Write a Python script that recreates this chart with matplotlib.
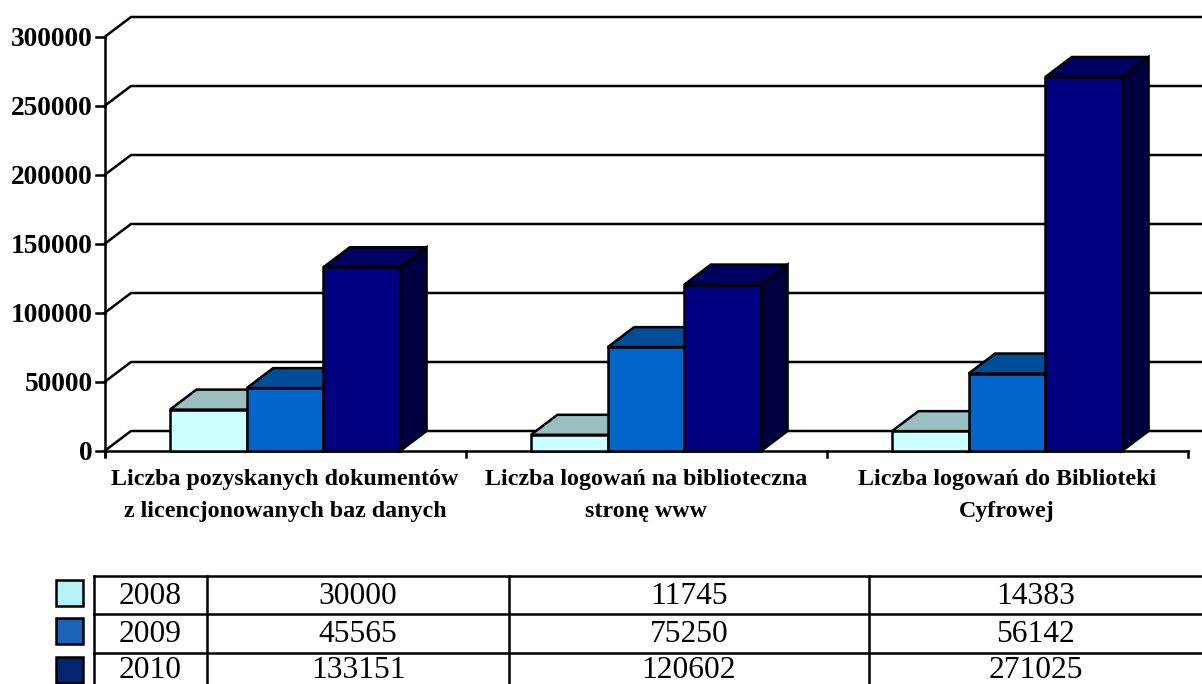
import matplotlib
matplotlib.use("Agg")
import matplotlib.pyplot as plt
from matplotlib.patches import Polygon, Rectangle

plt.rcParams['font.family'] = ['Liberation Serif', 'DejaVu Serif']

categories = ["Liczba pozyskanych dokumentów\nz licencjonowanych baz danych",
              "Liczba logowań na biblioteczna\nstronę www",
              "Liczba logowań do Biblioteki\nCyfrowej"]
years = ["2008", "2009", "2010"]
v2008 = [30000, 11745, 14383]
v2009 = [45565, 75250, 56142]
v2010 = [133151, 120602, 271025]
y_ticks = [0, 50000, 100000, 150000, 200000, 250000, 300000]

series = [v2008, v2009, v2010]
front = ["#CCFFFF", "#0066CC", "#000080"]
top = ["#99BFBF", "#004D99", "#000060"]
side = ["#99BFBF", "#004D99", "#000040"]
swatch = ["#B5F3F9", "#1A63B8", "#04246E"]

W, H = 1202, 684
PX_PER_CAT = 361.0
X0 = 285.0
Y0 = 451.0
K = 414.0 / 300000
LW = 1.8

fig = plt.figure(figsize=(W / 100, H / 100), dpi=100, facecolor="white")
ax = fig.add_axes([0, 0, 1, 1])
ax.set_xlim(-X0 / PX_PER_CAT, (W - X0) / PX_PER_CAT)
ax.set_ylim(-(H - Y0) / K, Y0 / K)
ax.axis("off")

dx = 26.5 / PX_PER_CAT
dy = 20 / K
left = -0.5
right = 2.5
bw = 76.7 / PX_PER_CAT

# walls: gridlines with depth return
for t in y_ticks:
    ax.plot([left, left + dx, 3.0], [t, t + dy, t + dy], color="black", lw=LW, zorder=1,
            solid_joinstyle="miter")
    ax.plot([left - 9 / PX_PER_CAT, left], [t, t], color="black", lw=LW, zorder=1)
    ax.text(left - 12 / PX_PER_CAT, t, str(t), ha="right", va="center_baseline",
            fontsize=19.7, fontweight="bold", color="black")

ax.plot([left, left], [-5 / K, y_ticks[-1]], color="black", lw=LW, zorder=1)
ax.plot([left, right], [0, 0], color="black", lw=LW, zorder=1)
for i in range(4):
    ax.plot([left + i, left + i], [0, -6 / K], color="black", lw=LW, zorder=1)

# 3D bars
for c in range(len(categories)):
    for s, vals in enumerate(series):
        v = vals[c]
        x0 = c - 1.5 * bw + s * bw
        x1 = x0 + bw
        z = 3 + c * 3 + s
        ax.add_patch(Polygon([[x1, 0], [x1 + dx, dy], [x1 + dx, v + dy], [x1, v]], closed=True,
                             facecolor=side[s], edgecolor="black", lw=LW, zorder=z))
        ax.add_patch(Polygon([[x0, v], [x0 + dx, v + dy], [x1 + dx, v + dy], [x1, v]], closed=True,
                             facecolor=top[s], edgecolor="black", lw=LW, zorder=z))
        ax.bar(x0, v, width=bw, align="edge", color=front[s], edgecolor="black", lw=LW, zorder=z)

# category labels
for c, label in enumerate(categories):
    for j, line in enumerate(label.split("\n")):
        ax.text(c, -(480 + 31 * j - Y0) / K, line, ha="center", va="center", fontsize=17.3,
                fontweight="bold", color="black", zorder=30)

# data table in pixel space
tb = fig.add_axes([0, 0, 1, 1], facecolor="none")
tb.set_xlim(0, W)
tb.set_ylim(H, 0)
tb.axis("off")
col_edges = [94, 207, 509, 869, W]
row_edges = [576, 614, 653, H]
text_pad = [21.0, 21.0, 18.0]
for x in col_edges[:-1]:
    tb.plot([x, x], [row_edges[0], H], color="black", lw=LW)
for y in row_edges[:-1]:
    tb.plot([col_edges[0], W], [y, y], color="black", lw=LW)
for r, (yr, vals) in enumerate(zip(years, series)):
    yc = row_edges[r] + text_pad[r]
    tb.text((col_edges[0] + col_edges[1]) / 2, yc, yr, ha="center", va="center", fontsize=22.7)
    for c in range(3):
        tb.text((col_edges[c + 1] + col_edges[c + 2]) / 2, yc, str(vals[c]), ha="center", va="center",
                fontsize=22.7)
    tb.add_patch(Rectangle((56, row_edges[r] + 4), 27, 26, facecolor=swatch[r], edgecolor="black", lw=LW))

fig.savefig("out.png", dpi=100, facecolor="white")
